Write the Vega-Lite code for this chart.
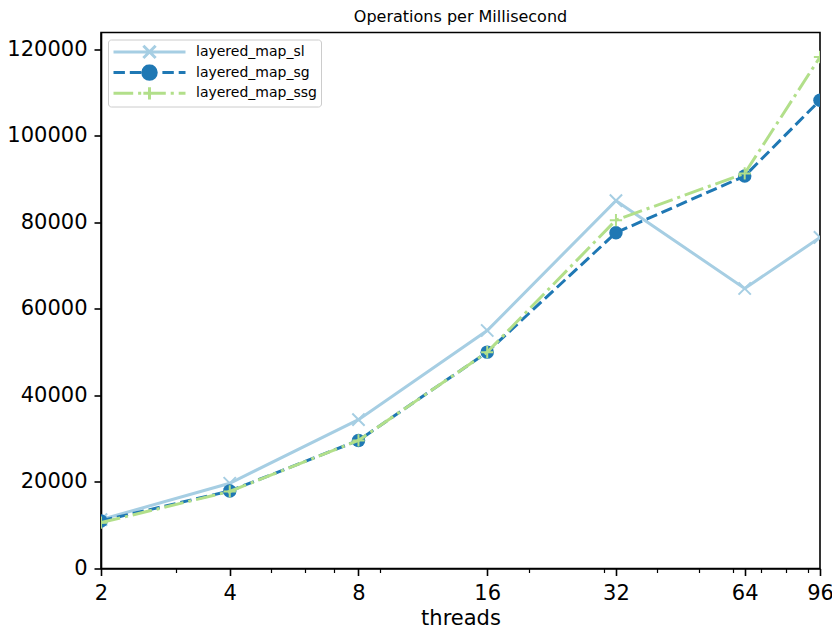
{
  "$schema": "https://vega.github.io/schema/vega-lite/v6.json",
  "width": 719,
  "height": 536,
  "autosize": {"type": "none"},
  "padding": {"left": 101, "top": 32.5, "right": 12, "bottom": 61.5},
  "background": "white",
  "title": {"text": "Operations per Millisecond", "fontSize": 16, "font": "DejaVu Sans", "fontWeight": "normal", "color": "black", "anchor": "middle", "baseline": "alphabetic", "offset": -5.5},
  "data": {"values": [
    {"threads": 2, "ops": 11300, "series": "layered_map_sl"},
    {"threads": 4, "ops": 19700, "series": "layered_map_sl"},
    {"threads": 8, "ops": 34400, "series": "layered_map_sl"},
    {"threads": 16, "ops": 55000, "series": "layered_map_sl"},
    {"threads": 32, "ops": 85000, "series": "layered_map_sl"},
    {"threads": 64, "ops": 64700, "series": "layered_map_sl"},
    {"threads": 96, "ops": 76500, "series": "layered_map_sl"},
    {"threads": 2, "ops": 11000, "series": "layered_map_sg"},
    {"threads": 4, "ops": 17900, "series": "layered_map_sg"},
    {"threads": 8, "ops": 29600, "series": "layered_map_sg"},
    {"threads": 16, "ops": 50000, "series": "layered_map_sg"},
    {"threads": 32, "ops": 77600, "series": "layered_map_sg"},
    {"threads": 64, "ops": 90700, "series": "layered_map_sg"},
    {"threads": 96, "ops": 108200, "series": "layered_map_sg"},
    {"threads": 2, "ops": 10600, "series": "layered_map_ssg"},
    {"threads": 4, "ops": 17800, "series": "layered_map_ssg"},
    {"threads": 8, "ops": 29600, "series": "layered_map_ssg"},
    {"threads": 16, "ops": 50000, "series": "layered_map_ssg"},
    {"threads": 32, "ops": 80500, "series": "layered_map_ssg"},
    {"threads": 64, "ops": 91300, "series": "layered_map_ssg"},
    {"threads": 96, "ops": 118200, "series": "layered_map_ssg"}
  ]},
  "encoding": {
    "y": {"field": "ops", "type": "quantitative", "scale": {"domain": [0, 123860], "nice": false, "zero": false},
      "axis": {"values": [0, 20000, 40000, 60000, 80000, 100000, 120000], "format": "d", "title": null, "labelBaseline": "middle"}},
    "color": {"field": "series", "type": "nominal",
      "scale": {"domain": ["layered_map_sl", "layered_map_sg", "layered_map_ssg"], "range": ["#a6cee3", "#1f78b4", "#b2df8a"]},
      "legend": {"title": null,
        "encode": {"symbols": {"update": {
          "opacity": {"value": 1},
          "strokeDash": {"value": []},
          "strokeWidth": {"value": 3},
          "size": {"value": 144},
          "shape": {"signal": "datum.value === 'layered_map_sl' ? 'M-6,0H6M-1.025,-1.025L1.025,1.025M-1.025,1.025L1.025,-1.025' : datum.value === 'layered_map_sg' ? 'M-6,0H-4.1M-3.283,0H-1.383M-0.567,0H1.333M2.15,0H4.05M4.867,0H6M1.125,0A1.125,1.125,0,1,1,-1.125,0A1.125,1.125,0,1,1,1.125,0Z' : 'M-6,0H-2.717M-1.9,0H-1.383M-0.567,0H2.717M3.533,0H4.05M4.867,0H6M-1.025,0H1.025M0,-1.025V1.025'"},
          "fill": {"signal": "datum.value === 'layered_map_sg' ? '#1f78b4' : 'transparent'"}
        }}}}
    }
  },
  "layer": [
    {
      "transform": [{"filter": "datum.series === 'layered_map_sl'"}],
      "mark": {"type": "line", "strokeWidth": 3, "clip": true},
      "encoding": {
        "x": {"field": "threads", "type": "quantitative", "scale": {"type": "log", "base": 2, "domain": [2, 96], "nice": false},
          "axis": {"orient": "bottom", "values": [2, 4, 8, 16, 32, 64, 96], "format": "d", "title": "threads", "titlePadding": 4}}
      }
    },
    {
      "transform": [{"filter": "datum.series === 'layered_map_sl'"}],
      "mark": {"type": "point", "shape": "M-1,-1L1,1M-1,1L1,-1", "size": 151, "filled": false, "strokeWidth": 2, "opacity": 1, "clip": true},
      "encoding": {
        "x": {"field": "threads", "type": "quantitative", "scale": {"type": "log", "base": 2, "domain": [2, 96], "nice": false}, "axis": null}
      }
    },
    {
      "transform": [{"filter": "datum.series === 'layered_map_sg'"}],
      "mark": {"type": "line", "strokeWidth": 3, "strokeDash": [11.4, 4.9], "clip": true},
      "encoding": {
        "x": {"field": "threads", "type": "quantitative", "scale": {"type": "log", "base": 2, "domain": [2, 96], "nice": false},
          "axis": {"orient": "bottom", "values": [3, 5, 6, 7, 9, 20, 30, 40, 50, 60, 70, 80, 90], "labels": false, "domain": false, "tickSize": 4, "tickWidth": 1.2, "title": null}}
      }
    },
    {
      "transform": [{"filter": "datum.series === 'layered_map_sg'"}],
      "mark": {"type": "point", "shape": "circle", "size": 182, "filled": true, "opacity": 1, "clip": true},
      "encoding": {
        "x": {"field": "threads", "type": "quantitative", "scale": {"type": "log", "base": 2, "domain": [2, 96], "nice": false}, "axis": null}
      }
    },
    {
      "transform": [{"filter": "datum.series === 'layered_map_ssg'"}],
      "mark": {"type": "line", "strokeWidth": 3, "strokeDash": [19.7, 4.9, 3.1, 4.9], "clip": true},
      "encoding": {
        "x": {"field": "threads", "type": "quantitative", "scale": {"type": "log", "base": 2, "domain": [2, 96], "nice": false}, "axis": null}
      }
    },
    {
      "transform": [{"filter": "datum.series === 'layered_map_ssg'"}],
      "mark": {"type": "point", "shape": "M-1,0L1,0M0,-1L0,1", "size": 151, "filled": false, "strokeWidth": 2, "opacity": 1, "clip": true},
      "encoding": {
        "x": {"field": "threads", "type": "quantitative", "scale": {"type": "log", "base": 2, "domain": [2, 96], "nice": false}, "axis": null}
      }
    }
  ],
  "resolve": {"axis": {"x": "independent"}},
  "config": {
    "font": "DejaVu Sans",
    "view": {"stroke": "black", "strokeWidth": 1.6},
    "axis": {"grid": false, "domainColor": "black", "domainWidth": 1.6, "tickColor": "black", "tickWidth": 1.6, "tickSize": 7,
      "labelColor": "black", "labelFontSize": 21, "labelPadding": 7, "titleColor": "black", "titleFontSize": 21, "titleFontWeight": "normal",
      "labelFlush": false, "labelOverlap": false, "labelBound": false},
    "legend": {
      "orient": "top-left", "offset": 7, "padding": 4, "symbolSize": 144, "symbolStrokeWidth": 3, "symbolOffset": 30,
      "labelFontSize": 14, "labelFont": "DejaVu Sans", "labelColor": "black", "labelOffset": 39, "rowPadding": 3.7, "clipHeight": 16.8,
      "fillColor": "rgba(255,255,255,0.8)", "strokeColor": "#cccccc", "cornerRadius": 3,
      "labelLimit": 300
    }
  }
}
